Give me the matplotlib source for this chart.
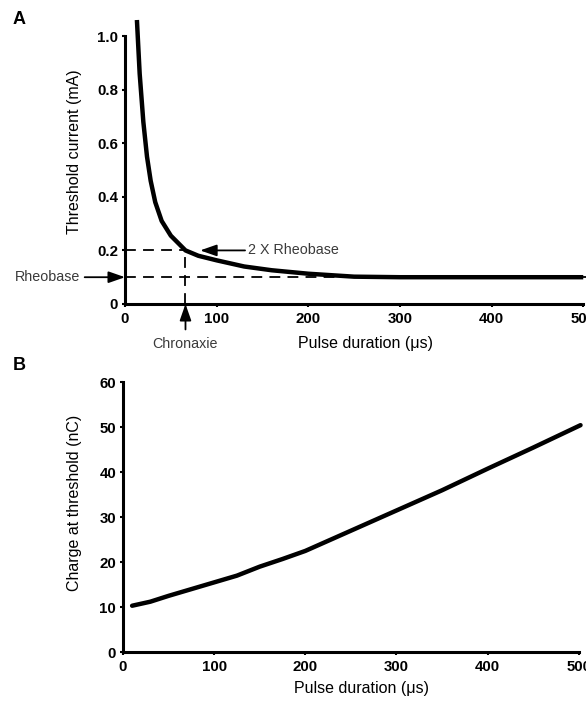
import numpy as np
import matplotlib.pyplot as plt

plt.rcParams['font.family'] = ['Liberation Sans', 'DejaVu Sans']

# --- data ---
# panel A: strength-duration curve
pulse_a = [13, 16, 20, 24, 28, 33, 40, 50, 66, 80, 100, 130, 160, 200, 250, 300, 400, 500]
current_a = [1.06, 0.86, 0.68, 0.55, 0.46, 0.38, 0.31, 0.255, 0.2, 0.18, 0.163, 0.14, 0.126, 0.113, 0.102, 0.1, 0.1, 0.1]
rheobase = 0.1
chronaxie = 66

# panel B: charge at threshold
pulse_b = [10, 30, 50, 75, 100, 125, 150, 175, 200, 250, 300, 350, 400, 450, 502]
charge_b = [10.3, 11.2, 12.5, 14.0, 15.5, 17.0, 19.0, 20.7, 22.5, 27.0, 31.5, 36.0, 40.8, 45.5, 50.5]

a_yticks = [0, 0.2, 0.4, 0.6, 0.8, 1.0]
a_ylabels = ['0', '0.2', '0.4', '0.6', '0.8', '1.0']
x_ticks = [0, 100, 200, 300, 400, 500]
b_yticks = [0, 10, 20, 30, 40, 50, 60]

W, H = 586, 705
fig = plt.figure(figsize=(W / 100, H / 100), dpi=100)

def px_axes(left, right, top, bottom):
    return fig.add_axes([left / W, 1 - bottom / H, (right - left) / W, (bottom - top) / H])

def style(ax):
    for s in ['top', 'right']:
        ax.spines[s].set_visible(False)
    for s in ['left', 'bottom']:
        ax.spines[s].set_linewidth(2.2)
    ax.tick_params(length=2, width=1.5, labelsize=10.8, pad=3)
    ax.tick_params(axis='x', pad=4)
    for lab in ax.get_xticklabels() + ax.get_yticklabels():
        lab.set_fontweight('bold')

def px_label(ax, xpx, ypx):
    # axes coords for a figure pixel position
    inv = ax.transAxes.inverted()
    return inv.transform((xpx, H - ypx))

note = dict(fontsize=10.3, color='#3a3a3a')

# --- panel A ---
axA = px_axes(125, 586, 20, 304)
axA.plot(pulse_a, current_a, color='black', lw=3.2, solid_capstyle='butt', clip_on=False)
axA.set_xlim(0, 503)
axA.set_ylim(0, 1.06)
axA.spines['left'].set_bounds(0, 1.0)
axA.spines['bottom'].set_bounds(0, 500)
axA.set_yticks(a_yticks)
axA.set_yticklabels(a_ylabels)
axA.set_xticks(x_ticks)
style(axA)
axA.set_ylabel('Threshold current (mA)', fontsize=11.5)
axA.set_xlabel('Pulse duration (\u03bcs)', fontsize=11.5)
axA.yaxis.set_label_coords(*px_label(axA, 75, 152))
axA.xaxis.set_label_coords(*px_label(axA, 365, 343))
axA.xaxis.label.set_va('center')
axA.yaxis.label.set_va('center')

dash = dict(color='black', lw=1.3, ls=(0, (6, 4)))
axA.plot([0, 503], [rheobase, rheobase], **dash)
axA.plot([0, chronaxie], [2 * rheobase, 2 * rheobase], **dash)
axA.plot([chronaxie, chronaxie], [0, 2 * rheobase], **dash)

arr = dict(arrowstyle='-|>,head_length=1.0,head_width=0.35', color='black', lw=1.3,
           shrinkA=0, shrinkB=0)
axA.annotate('', xy=(0, rheobase), xytext=(-44, rheobase), arrowprops=arr,
             annotation_clip=False)
axA.text(-49, rheobase, 'Rheobase', ha='right', va='center', **note)
axA.annotate('', xy=(82, 2 * rheobase), xytext=(131, 2 * rheobase), arrowprops=arr,
             annotation_clip=False)
axA.text(134, 2 * rheobase, '2 X Rheobase', ha='left', va='center', **note)
axA.annotate('', xy=(chronaxie, 0), xytext=(chronaxie, -0.095), arrowprops=arr,
             annotation_clip=False)
axA.text(chronaxie, -0.148, 'Chronaxie', ha='center', va='center', **note)

# --- panel B ---
axB = px_axes(123, 586, 378, 652)
axB.plot(pulse_b, charge_b, color='black', lw=3.2, solid_capstyle='round', clip_on=False)
axB.set_xlim(0, 508)
axB.set_ylim(0, 61)
axB.spines['left'].set_bounds(0, 60)
axB.spines['bottom'].set_bounds(0, 500)
axB.set_xticks(x_ticks)
axB.set_yticks(b_yticks)
style(axB)
axB.set_ylabel('Charge at threshold (nC)', fontsize=11.5)
axB.set_xlabel('Pulse duration (\u03bcs)', fontsize=11.5)
axB.yaxis.set_label_coords(*px_label(axB, 75, 503))
axB.xaxis.set_label_coords(*px_label(axB, 362, 689))
axB.xaxis.label.set_va('center')
axB.yaxis.label.set_va('center')

fig.text(19 / W, 1 - 20 / H, 'A', fontsize=13, fontweight='bold', ha='center', va='center')
fig.text(19 / W, 1 - 365 / H, 'B', fontsize=13, fontweight='bold', ha='center', va='center')

fig.savefig('out.png', dpi=100)
